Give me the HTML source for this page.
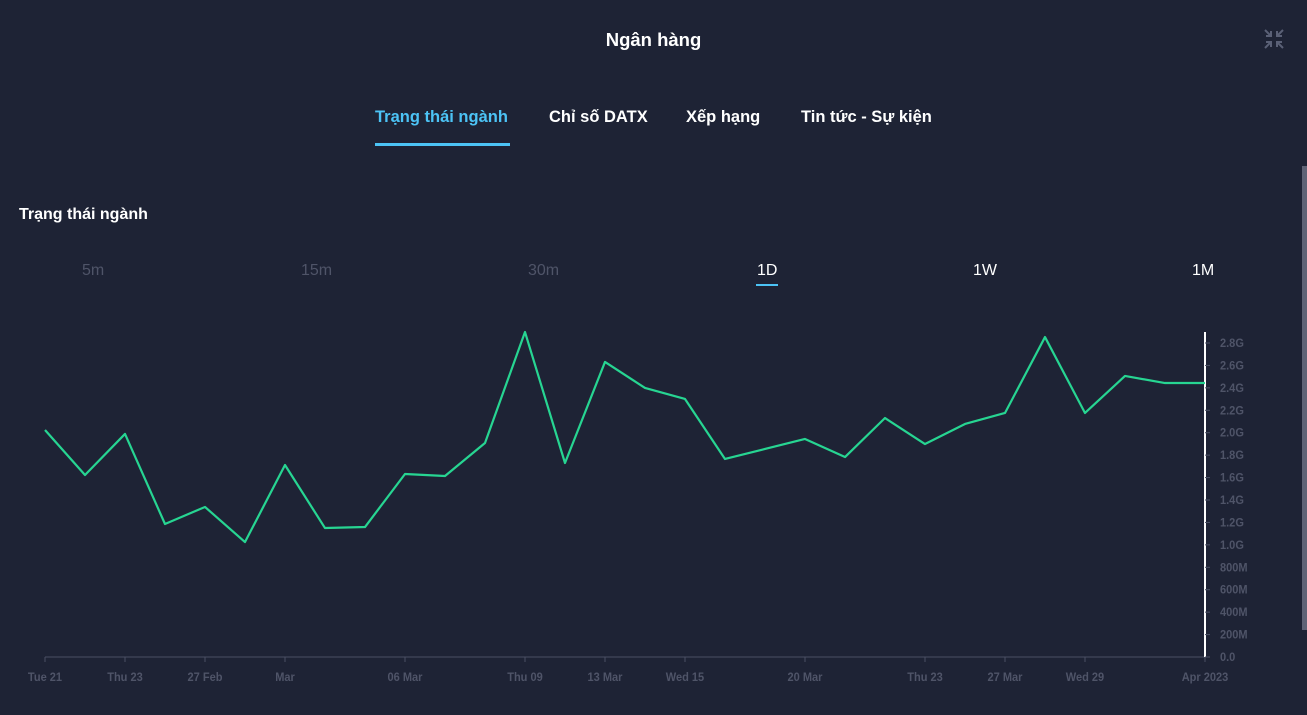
<!DOCTYPE html>
<html><head><meta charset="utf-8"><style>
body{margin:0;width:1307px;height:715px;background:#1e2335;overflow:hidden;font-family:"Liberation Sans",sans-serif;position:relative}
.t{position:absolute;white-space:nowrap}
</style></head><body>
<div class="t" style="left:0;width:1307px;text-align:center;top:29px;font-size:18.5px;font-weight:bold;color:#fff">Ngân hàng</div>
<svg style="position:absolute;left:1263px;top:28px" width="22" height="22" viewBox="0 0 22 22" stroke="#5a6076" stroke-width="2" fill="none">
<path d="M2 2l6 6M8 3v5H3M20 2l-6 6M14 3v5h5M2 20l6-6M8 19v-5H3M20 20l-6-6M14 19v-5h5"/></svg>
<div class="t" style="left:375px;top:108px;font-size:16.5px;font-weight:bold;color:#4cc3f5">Trạng thái ngành</div>
<div style="position:absolute;left:375px;top:143px;width:135px;height:3px;background:#4cc3f5"></div>
<div class="t" style="left:549px;top:108px;font-size:16.5px;font-weight:bold;color:#fff">Chỉ số DATX</div>
<div class="t" style="left:686px;top:108px;font-size:16.5px;font-weight:bold;color:#fff">Xếp hạng</div>
<div class="t" style="left:801px;top:108px;font-size:16.5px;font-weight:bold;color:#fff">Tin tức - Sự kiện</div>
<div style="position:absolute;left:1302px;top:166px;width:5px;height:464px;background:#5f6376"></div>
<div class="t" style="left:19px;top:206px;font-size:16px;font-weight:bold;color:#fff">Trạng thái ngành</div>
<div class="t" style="left:82px;top:262px;font-size:16px;color:#4f5468">5m</div>
<div class="t" style="left:301px;top:262px;font-size:16px;color:#4f5468">15m</div>
<div class="t" style="left:528px;top:262px;font-size:16px;color:#4f5468">30m</div>
<div class="t" style="left:757px;top:262px;font-size:16px;color:#fff">1D</div>
<div style="position:absolute;left:756px;top:284px;width:22px;height:2px;background:#4cc3f5"></div>
<div class="t" style="left:973px;top:262px;font-size:16px;color:#fff">1W</div>
<div class="t" style="left:1192px;top:262px;font-size:16px;color:#fff">1M</div>
<svg id="chart" style="position:absolute;left:0;top:0" width="1307" height="715"></svg>
<script>
const values=[2.024,1.623,1.989,1.186,1.338,1.025,1.712,1.150,1.159,1.632,1.614,1.908,2.898,1.730,2.631,2.399,2.301,1.766,1.855,1.944,1.783,2.131,1.899,2.078,2.176,2.853,2.176,2.506,2.443,2.443];
const xLabelIdx=[0,2,4,6,9,12,14,16,19,22,24,26,29];
const xLabels=["Tue 21","Thu 23","27 Feb","Mar","06 Mar","Thu 09","13 Mar","Wed 15","20 Mar","Thu 23","27 Mar","Wed 29","Apr 2023"];
const yTicks=[0,0.2,0.4,0.6,0.8,1.0,1.2,1.4,1.6,1.8,2.0,2.2,2.4,2.6,2.8];
const yTickLabels=["0.0","200M","400M","600M","800M","1.0G","1.2G","1.4G","1.6G","1.8G","2.0G","2.2G","2.4G","2.6G","2.8G"];
const svg=document.getElementById('chart');const NS='http://www.w3.org/2000/svg';
const x0=45,x1=1205,y0=657,y28=343;
const X=i=>x0+(x1-x0)*i/(values.length-1);
const Y=v=>y0-(y0-y28)*v/2.8;
function mk(t,a){const e=document.createElementNS(NS,t);for(const k in a)e.setAttribute(k,a[k]);svg.appendChild(e);return e;}
let e=mk('line',{x1:x0,y1:y0,x2:x1,y2:y0,stroke:'#4a4f63','stroke-width':1});


e=mk('line',{x1:x1,y1:332,x2:x1,y2:y0,stroke:'#fff','stroke-width':2});


yTicks.forEach((v,i)=>{
 const t=mk('line',{x1:x1,y1:Y(v),x2:x1+5,y2:Y(v),stroke:'#4a4f63'});
 
 
 const l=mk('text',{x:x1+15,y:Y(v)+4,fill:'#4f5468','font-size':'12','font-weight':'bold','font-family':'Liberation Sans,sans-serif',textLength:0});
 l.removeAttribute('textLength');
 l.setAttribute('transform','translate('+(x1+15)+',0) scale(0.92,1) translate('+(-(x1+15))+',0)');
 l.textContent=yTickLabels[i];
 
 
});
xLabelIdx.forEach((idx,i)=>{
 const t=mk('line',{x1:X(idx),y1:y0,x2:X(idx),y2:y0+5,stroke:'#4a4f63'});
 
 
 const l=mk('text',{x:X(idx),y:y0+24,fill:'#4f5468','font-size':'12','font-weight':'bold','text-anchor':'middle','font-family':'Liberation Sans,sans-serif'});
 l.setAttribute('transform','translate('+X(idx)+',0) scale(0.92,1) translate('+(-X(idx))+',0)');
 l.textContent=xLabels[i];
 
 
});
const p=mk('polyline',{points:values.map((v,i)=>X(i)+','+Y(v)).join(' '),fill:'none',stroke:'#27d592','stroke-width':2.2,'stroke-linejoin':'round'});


</script>
</body></html>
